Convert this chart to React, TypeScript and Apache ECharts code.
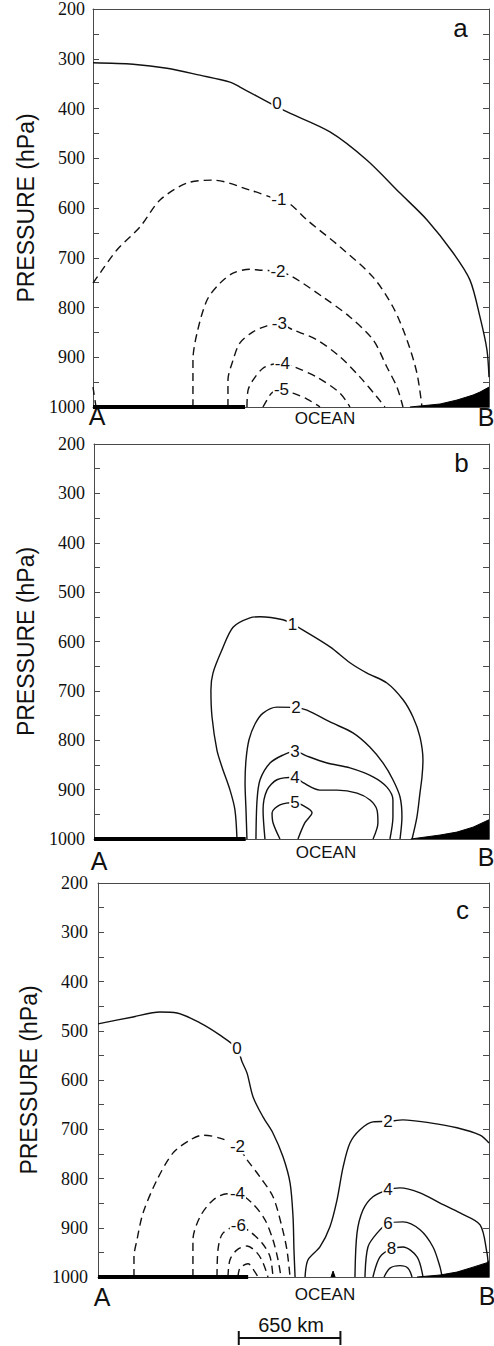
import React, { useEffect, useRef } from "react";
import * as echarts from "echarts";

type Pt = [number, number];
type Lbl = [number, number, string];

// ---- axes ----
const DIST_MAX_KM = 2500;
const P_TOP = 200;
const P_SURFACE = 1000;
const P_TICK_STEP = 50;
const P_TICK_LABELS = [200, 300, 400, 500, 600, 700, 800, 900, 1000];
const PANEL_LETTERS = ["a", "b", "c"];
const Y_TITLE = "PRESSURE (hPa)";
const END_A = "A";
const END_B = "B";
const OCEAN_TEXT = "OCEAN";
const LAND_A_KM = 960;
const SCALE_KM = 650;
const SCALE_START_KM = 900;

// ---- panel a : [distance km, pressure hPa] ----
const aC0: Pt[] = [[0,308],[253,311],[467,319],[675,333],[865,347],[928,357],[1199,403],[1496,447],[1730,504],[1938,570],[2109,624],[2273,690],[2380,745],[2443,819],[2487,885],[2500,940]];
const aM1: Pt[] = [[0,751],[44,731],[152,684],[297,638],[423,584],[593,550],[758,544],[991,564],[1174,584],[1244,592],[1351,624],[1559,678],[1768,739],[1894,799],[1982,865],[2045,932],[2077,1000]];
const aM1b: Pt[] = [[0,960],[19,1000]];
const aM2: Pt[] = [[631,1000],[631,906],[657,851],[720,785],[802,751],[884,731],[991,723],[1054,725],[1168,727],[1263,739],[1452,779],[1622,819],[1768,865],[1856,920],[1919,960],[1957,1000]];
const aM3: Pt[] = [[852,1000],[852,946],[884,906],[928,871],[1010,849],[1098,837],[1177,833],[1263,845],[1414,865],[1559,899],[1686,940],[1793,980],[1843,1000]];
const aM4: Pt[] = [[972,1000],[979,966],[1010,946],[1073,922],[1136,914],[1196,912],[1275,920],[1414,940],[1559,972],[1622,1000]];
const aM5: Pt[] = [[1073,1000],[1117,976],[1136,970],[1190,964],[1263,972],[1351,984],[1433,1000]];
const aLabels: Lbl[] = [[1162,390,"0"],[1174,584,"-1"],[1168,727,"-2"],[1177,833,"-3"],[1196,912,"-4"],[1190,964,"-5"]];
const aCoastB: Pt[] = [[2001,1000],[2191,994],[2298,986],[2399,976],[2443,970],[2500,960]];

// ---- panel b ----
const bC1: Pt[] = [[905,1000],[892,941],[861,901],[810,854],[778,820],[747,753],[740,698],[753,664],[810,617],[880,571],[987,552],[1051,550],[1196,556],[1256,565],[1323,577],[1494,611],[1620,643],[1728,664],[1854,684],[1956,718],[2019,753],[2063,793],[2082,840],[2076,874],[2063,907],[2044,955],[2013,1000]];
const bC2: Pt[] = [[968,1000],[962,941],[956,886],[962,840],[981,799],[1019,767],[1070,745],[1158,733],[1278,734],[1348,739],[1494,763],[1639,785],[1747,814],[1829,846],[1892,880],[1937,915],[1949,955],[1937,1000]];
const bC3: Pt[] = [[1025,1000],[1032,921],[1051,880],[1114,846],[1196,830],[1272,822],[1348,832],[1475,846],[1620,856],[1766,874],[1854,895],[1892,921],[1892,955],[1873,1000]];
const bC4: Pt[] = [[1082,1000],[1070,941],[1095,901],[1158,880],[1272,875],[1323,886],[1430,901],[1538,901],[1665,907],[1747,921],[1791,941],[1797,967],[1766,1000]];
const bC5: Pt[] = [[1177,1000],[1133,967],[1127,947],[1177,931],[1272,926],[1316,931],[1380,947],[1335,967],[1291,1000]];
const bLabels: Lbl[] = [[1256,565,"1"],[1278,734,"2"],[1272,822,"3"],[1272,875,"4"],[1272,926,"5"]];
const bCoastB: Pt[] = [[2005,1000],[2190,992],[2297,986],[2399,976],[2500,961]];

// ---- panel c ----
const cC0: Pt[] = [[0,486],[224,472],[396,462],[505,464],[652,484],[780,509],[889,536],[921,563],[953,586],[991,634],[1055,675],[1119,708],[1183,756],[1228,809],[1247,878],[1253,945],[1260,1000]];
const cC2: Pt[] = [[1324,1000],[1343,965],[1419,939],[1483,898],[1528,844],[1567,777],[1611,728],[1675,701],[1758,685],[1854,684],[1950,681],[2123,687],[2295,697],[2443,712],[2500,728]];
const cC4: Pt[] = [[1643,1000],[1656,911],[1694,864],[1758,837],[1854,823],[1931,819],[2059,829],[2187,850],[2315,870],[2443,894],[2487,951],[2494,971]];
const cC6: Pt[] = [[1707,1000],[1726,939],[1784,911],[1854,891],[1950,888],[2059,904],[2142,939],[2187,980],[2200,1000]];
const cC8: Pt[] = [[1758,1000],[1803,959],[1877,943],[1950,939],[2040,959],[2078,1000]];
const cC10: Pt[] = [[1829,1000],[1867,982],[1931,977],[1982,982],[2008,1000]];
const cM2: Pt[] = [[230,1000],[230,959],[249,925],[288,870],[377,803],[480,748],[588,722],[671,712],[780,718],[892,735],[953,762],[1036,797],[1119,837],[1176,898],[1208,945],[1228,1000]];
const cM4: Pt[] = [[607,1000],[607,925],[652,878],[735,844],[825,831],[892,831],[985,850],[1068,884],[1119,925],[1151,965],[1170,1000]];
const cM6: Pt[] = [[761,1000],[767,945],[799,911],[898,896],[972,908],[1049,931],[1100,959],[1119,1000]];
const cM8: Pt[] = [[831,1000],[844,965],[889,945],[953,937],[1017,951],[1055,971],[1087,1000]];
const cM10: Pt[] = [[895,1000],[908,982],[959,973],[1004,990],[1023,1000]];
const cLabels: Lbl[] = [[889,536,"0"],[892,735,"-2"],[892,831,"-4"],[898,896,"-6"],[1854,684,"2"],[1854,823,"4"],[1854,891,"6"],[1877,943,"8"]];
const cCoastB: Pt[] = [[2040,1000],[2187,996],[2295,990],[2398,980],[2487,971],[2500,967]];
const cSpike: Pt[] = [[1490,1000],[1503,988],[1516,1000]];

const INK = "#111111";
const FRAME = "#4a4a4a";
const SANS = "Liberation Sans";
const SERIF = "Liberation Serif";

export default function App() {
  const ref = useRef<HTMLDivElement>(null);

  useEffect(() => {
    document.body.style.margin = "0";
    if (!ref.current) return;
    const chart = echarts.init(ref.current, null, { renderer: "svg" });

    const grids = [
      { left: 93, right: 5, top: 9, height: 398 },
      { left: 94, right: 5, top: 444, height: 395 },
      { left: 98, right: 5, top: 883, height: 394 },
      { left: 98, right: 5, top: 1331, height: 14 },
    ];
    const labelMargins = [8, 9, 10];
    const nameGaps = [56, 57, 58];

    const xAxes: any[] = [];
    const yAxes: any[] = [];
    for (let i = 0; i < 3; i++) {
      const xBase = {
        gridIndex: i, type: "value", min: 0, max: DIST_MAX_KM,
        axisLine: { show: true, onZero: false, lineStyle: { color: FRAME, width: 1 } },
        axisTick: { show: false }, axisLabel: { show: false }, splitLine: { show: false },
      };
      xAxes.push({ ...xBase, position: "bottom" });
      xAxes.push({ ...xBase, position: "top" });
      const yBase = {
        gridIndex: i, type: "value", inverse: true, min: P_TOP, max: P_SURFACE, interval: P_TICK_STEP,
        axisLine: { show: true, onZero: false, lineStyle: { color: FRAME, width: 1 } },
        axisTick: { show: true, inside: true, length: 6, lineStyle: { color: FRAME, width: 1 } },
        splitLine: { show: false },
      };
      yAxes.push({
        ...yBase, position: "left",
        axisLabel: { show: false },
        name: Y_TITLE, nameLocation: "middle", nameGap: nameGaps[i], nameRotate: 90,
        nameTextStyle: { fontFamily: SANS, fontSize: 23, color: INK },
      });
      yAxes.push({ ...yBase, position: "right", axisLabel: { show: false } });
    }
    xAxes.push({ gridIndex: 3, type: "value", min: 0, max: DIST_MAX_KM, show: false });
    yAxes.push({ gridIndex: 3, type: "value", min: 0, max: 2, show: false });

    const series: any[] = [];
    const landIdx: number[] = [];
    const contour = (p: number, data: Pt[], dashed: boolean) => {
      series.push({
        type: "line", xAxisIndex: p * 2, yAxisIndex: p * 2, data, symbol: "none",
        smooth: 0.3, clip: false, silent: true, z: 2,
        lineStyle: { color: INK, width: 1.4, type: dashed ? [8, 5] : "solid" },
      });
    };
    const labels = (p: number, data: Lbl[]) => {
      series.push({
        type: "scatter", xAxisIndex: p * 2, yAxisIndex: p * 2, symbolSize: 0.1,
        itemStyle: { color: INK, opacity: 0 }, silent: true, z: 5,
        data: data.map((d) => ({ value: [d[0], d[1]], name: d[2] })),
        label: {
          show: true, opacity: 1, position: [0, 0], align: "center", verticalAlign: "middle",
          formatter: "{t|{b}}",
          backgroundColor: "#fff", padding: [0, 1],
          rich: { t: { fontFamily: SANS, fontSize: 17, color: INK, lineHeight: 16 } },
        },
      });
    };
    const land = (p: number) => {
      landIdx[p] = series.length;
      series.push({
        type: "line", xAxisIndex: p * 2, yAxisIndex: p * 2, symbol: "none", clip: false, silent: true, z: 4,
        data: [[0, P_SURFACE], [LAND_A_KM, P_SURFACE]],
        lineStyle: { color: "#000", width: 4 },
      });
    };
    const fill = (p: number, data: Pt[]) => {
      series.push({
        type: "line", xAxisIndex: p * 2, yAxisIndex: p * 2, symbol: "none", clip: false, silent: true, z: 4,
        data, lineStyle: { color: "#000", width: 1 },
        areaStyle: { color: "#000", opacity: 1, origin: "end" },
      });
    };

    // panel a
    [aC0].forEach((d) => contour(0, d, false));
    [aM1, aM1b, aM2, aM3, aM4, aM5].forEach((d) => contour(0, d, true));
    land(0); fill(0, aCoastB); labels(0, aLabels);
    // panel b
    [bC1, bC2, bC3, bC4, bC5].forEach((d) => contour(1, d, false));
    land(1); fill(1, bCoastB); labels(1, bLabels);
    // panel c
    [cC0, cC2, cC4, cC6, cC8, cC10].forEach((d) => contour(2, d, false));
    [cM2, cM4, cM6, cM8, cM10].forEach((d) => contour(2, d, true));
    land(2); fill(2, cCoastB); fill(2, cSpike); labels(2, cLabels);

    // scale bar
    const sEnd = SCALE_START_KM + SCALE_KM;
    [
      [[SCALE_START_KM, 1], [sEnd, 1]],
      [[SCALE_START_KM, 0], [SCALE_START_KM, 2]],
      [[sEnd, 0], [sEnd, 2]],
    ].forEach((d) =>
      series.push({
        type: "line", xAxisIndex: 6, yAxisIndex: 6, data: d, symbol: "none", clip: false, silent: true,
        lineStyle: { color: INK, width: 2 },
      })
    );

    const txt = (text: string, x: number, y: number, size: number, fam = SANS, align = "center") => ({
      type: "text", x, y, silent: true,
      style: { text, font: `${size}px "${fam}"`, fill: INK, align, verticalAlign: "middle" },
    });
    const letterPos: [number, number][] = [[460.5, 28], [461.5, 463], [462.5, 910]];
    const aPos: [number, number][] = [[97, 416], [99, 861], [102, 1297]];
    const bPos: [number, number][] = [[486, 417], [486, 857], [487, 1296]];
    const oPos: [number, number][] = [[325, 418], [326, 852], [325, 1294]];
    const graphic: any[] = [];
    for (let i = 0; i < 3; i++) {
      graphic.push(txt(PANEL_LETTERS[i], letterPos[i][0], letterPos[i][1], 26));
      graphic.push(txt(END_A, aPos[i][0], aPos[i][1], 25));
      graphic.push(txt(END_B, bPos[i][0], bPos[i][1], 25));
      graphic.push(txt(OCEAN_TEXT, oPos[i][0], oPos[i][1], 17));
    }
    graphic.push(txt(`${SCALE_KM} km`, 291, 1325, 20));

    chart.setOption({
      animation: false,
      backgroundColor: "#fff",
      grid: grids,
      xAxis: xAxes,
      yAxis: yAxes,
      series,
    });

    // pressure tick labels, placed through each panel's own scale
    for (let i = 0; i < 3; i++) {
      const g = grids[i];
      for (const v of P_TICK_LABELS) {
        let px: any = null;
        try {
          px = chart.convertToPixel({ seriesIndex: landIdx[i] } as any, [0, v]);
        } catch (e) {
          px = null;
        }
        let x = g.left;
        let y = g.top + ((v - P_TOP) / (P_SURFACE - P_TOP)) * g.height;
        if (px && isFinite(px[0]) && isFinite(px[1])) { x = px[0]; y = px[1]; }
        graphic.push(txt(String(v), x - labelMargins[i], y, 18, SERIF, "right"));
      }
    }
    chart.setOption({ graphic });
    return () => chart.dispose();
  }, []);

  return <div ref={ref} style={{ width: 494, height: 1346 }} />;
}
